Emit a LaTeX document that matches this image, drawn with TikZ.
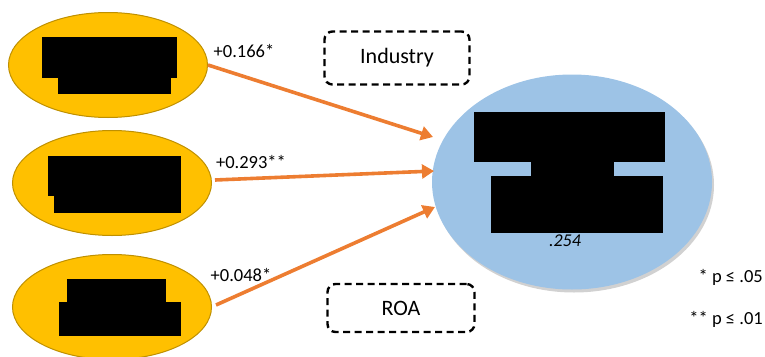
\documentclass[tikz,border=0pt]{standalone}
\usepackage{fontspec}
\setmainfont{Carlito}
\usepackage{tikz}
\usetikzlibrary{shapes.geometric,arrows.meta,shadows}

\definecolor{ivgold}{HTML}{FFC000}
\definecolor{ivedge}{HTML}{BF9000}
\definecolor{dvblue}{HTML}{9DC3E6}
\definecolor{pathorange}{HTML}{ED7D31}

\begin{document}
\begin{tikzpicture}[
    x=1pt, y=-1pt,
    iv/.style={ellipse, draw=ivedge, line width=1pt, fill=ivgold, minimum width=199pt, minimum height=105pt, inner sep=0pt},
    dv/.style={ellipse, fill=dvblue, minimum width=280pt, minimum height=215pt, inner sep=0pt,
        drop shadow={shadow xshift=2pt, shadow yshift=-3pt, opacity=0.3, fill=black!60}},
    control/.style={rectangle, rounded corners=8pt, draw=black, line width=2.4pt, dash pattern=on 7pt off 4.5pt, font=\fontsize{22}{26}\selectfont},
    path/.style={-{Triangle[length=12pt,width=14pt]}, line width=3.6pt, draw=pathorange},
    coef/.style={font=\fontsize{18.5}{22}\selectfont, inner sep=0pt},
    mask/.style={fill=black}
]
    \useasboundingbox (0,0) rectangle (765,356);

    % Predictors
    \node[iv] (iv1) at (108,65) {};
    \node[iv] (iv2) at (112,183) {};
    \node[iv] (iv3) at (112,307) {};

    % Masked names
    \fill[mask] (42,37) rectangle (177,78);
    \fill[mask] (58,77) rectangle (171,94);
    \fill[mask] (48,156) rectangle (181,196);
    \fill[mask] (54,195) rectangle (181,213);
    \fill[mask] (67,279) rectangle (166,303);
    \fill[mask] (59,302) rectangle (181,336);

    % Outcome
    \node[dv] (dv) at (572,182) {};
    \fill[mask] (474,112) rectangle (665,162);
    \fill[mask] (531,161) rectangle (614,177);
    \fill[mask] (491,176) rectangle (663,233);
    \node[coef, font=\fontsize{18}{22}\selectfont\itshape] (rsq) at (565,241) {.254};

    % Controls
    \node[control, minimum width=145pt, minimum height=53pt] (industry) at (397,58) {Industry};
    \node[control, minimum width=147pt, minimum height=48pt] (roa) at (401,308) {ROA};

    % Arrow ends
    \coordinate (t1) at (433,137);
    \coordinate (t2) at (434,171);
    \coordinate (t3) at (435,207);

    % Paths
    \draw[path] (iv1.east) -- (t1);
    \draw[path] (iv2.east) ++(3,-3) -- (t2);
    \draw[path] (iv3.east) ++(4,-2) -- (t3);

    % Coefficients
    \node[coef] (c1) at (244,51) {+0.166*};
    \node[coef] (c2) at (251,162) {+0.293**};
    \node[coef] (c3) at (241,275) {+0.048*};

    % Legend
    \node[coef, anchor=east] (p05) at (763,277) {* p ≤ .05};
    \node[coef, anchor=east] (p01) at (763,319) {** p ≤ .01};
\end{tikzpicture}
\end{document}
